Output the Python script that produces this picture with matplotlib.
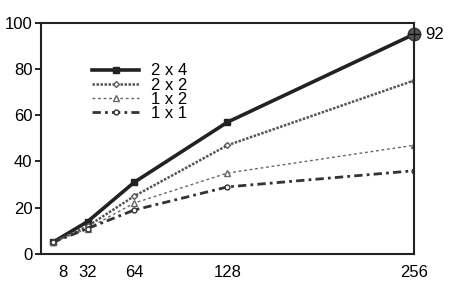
import matplotlib.pyplot as plt
import matplotlib.transforms as mtransforms

plt.rcParams["font.family"] = ["Liberation Sans", "DejaVu Sans"]

# values
sizes = [8, 32, 64, 128, 256]
tick_labels = ["8", "32", "64", "128", "256"]
s2x4 = [5, 14, 31, 57, 95]
s2x2 = [5, 12, 25, 47, 75]
s1x2 = [5, 11, 22, 35, 47]
s1x1 = [5, 11, 19, 29, 36]
peak_label = "92"

fig = plt.figure(figsize=(4.5, 2.87), dpi=100)
ax = fig.add_axes([0.091, 0.115, 0.829, 0.806])

ax.plot(sizes, s2x4, color="#222222", lw=2.6, marker="s", ms=4,
        label="2 x 4")
ax.plot(sizes, s2x2, color="#555555", lw=1.8, ls=(0, (1, 0.6)),
        marker="D", ms=3, mfc="white", label="2 x 2")
ax.plot(sizes, s1x2, color="#666666", lw=1.0, ls=(0, (2, 2)),
        marker="^", ms=4, mfc="white", label="1 x 2")
ax.plot(sizes, s1x1, color="#333333", lw=2.0, ls=(0, (3, 1.5, 1, 1.5)),
        marker="o", ms=3.5, mfc="white", label="1 x 1")

# big crossed circle at the last 2x4 point
ax.plot(sizes[-1], s2x4[-1], marker="o", ms=9, color="#333333",
        mfc="#555555", zorder=5, clip_on=False)
ax.plot(sizes[-1], s2x4[-1], marker="+", ms=8, color="#111111",
        mew=1, zorder=6, clip_on=False)
ax.annotate(peak_label, (sizes[-1], s2x4[-1]), xytext=(8, 0),
            textcoords="offset points", va="center", fontsize=12)

ax.set_xlim(0, 256)
ax.set_ylim(0, 100)
ax.set_yticks([0, 20, 40, 60, 80, 100])
ax.set_xticks(sizes)
ax.set_xticklabels(tick_labels)
ax.tick_params(axis="x", length=0, labelsize=12, pad=8)
ax.tick_params(axis="y", length=4, width=1.2, labelsize=12, pad=2)

# first label sits a bit to the right in the original
lbl = ax.get_xticklabels()[0]
lbl.set_transform(lbl.get_transform() +
                  mtransforms.ScaledTranslation(0.1, 0, fig.dpi_scale_trans))

for sp in ax.spines.values():
    sp.set_linewidth(1.5)
    sp.set_color("#222222")

ax.legend(loc="upper left", bbox_to_anchor=(0.115, 0.86), frameon=False,
          handlelength=2.8, fontsize=12, labelspacing=-0.05,
          handletextpad=0.7, borderpad=0)

fig.savefig("out.png", dpi=100)
